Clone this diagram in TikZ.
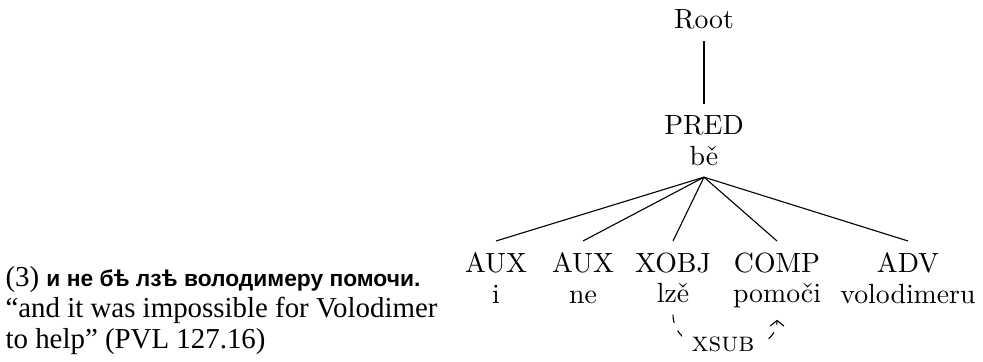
\documentclass[tikz,border=0pt]{standalone}
\usepackage{fontspec}
\usetikzlibrary{arrows.meta}
\newfontfamily\glossfont{Liberation Serif}
\newfontfamily\slavfont{Liberation Sans}
\begin{document}
\begin{tikzpicture}[x=0.36pt,y=-0.36pt,
  tok/.style={font=\fontsize{10}{11}\selectfont, align=center, anchor=north, inner sep=4pt},
  head/.style={font=\fontsize{10}{11}\selectfont, anchor=base, inner sep=4pt},
  dep/.style={line width=0.4pt},
  sec/.style={dep, dashed, -{Straight Barb[length=2pt,width=5pt]}},
  rel/.style={font=\fontsize{10}{11}\selectfont, anchor=base, fill=white, inner sep=3.5pt},
  gloss/.style={font=\glossfont\fontsize{10.4}{12}\selectfont, anchor=base west, inner sep=0pt}]
\useasboundingbox (0,0) rectangle (983,362);

% example sentence and translation
\node[gloss] (ex)  at (5,287) {(3) {\slavfont\bfseries\fontsize{8.2}{10}\selectfont и не бѣ лзѣ володимеру помочи.}};
\node[gloss] (tr1) at (5,318) {“and it was impossible for Volodimer};
\node[gloss] (tr2) at (5,349) {to help” (PVL 127.16)};

% dependency tree
\node[head] (root) at (704,29) {Root};
\node[tok] (pred) at (704,104) {PRED\\bě};
\node[tok] (aux1) at (496,241) {AUX\\i};
\node[tok] (aux2) at (583,241) {AUX\\ne};
\node[tok] (xobj) at (673,241) {XOBJ\\lzě};
\node[tok] (comp) at (777,241) {COMP\\pomoči};
\node[tok] (adv)  at (908,241) {ADV\\volodimeru};

\draw[dep] (root) -- (pred);
\foreach \c in {aux1,aux2,xobj,comp,adv}
  \draw[dep] (pred.south) -- (\c.north);

% secondary (subject) edge
\draw[sec] (xobj.south) .. controls +(0,48) and +(0,42) .. (comp.south);
\node[rel] (xsub) at (723,352) {\textsc{xsub}};
\end{tikzpicture}
\end{document}
